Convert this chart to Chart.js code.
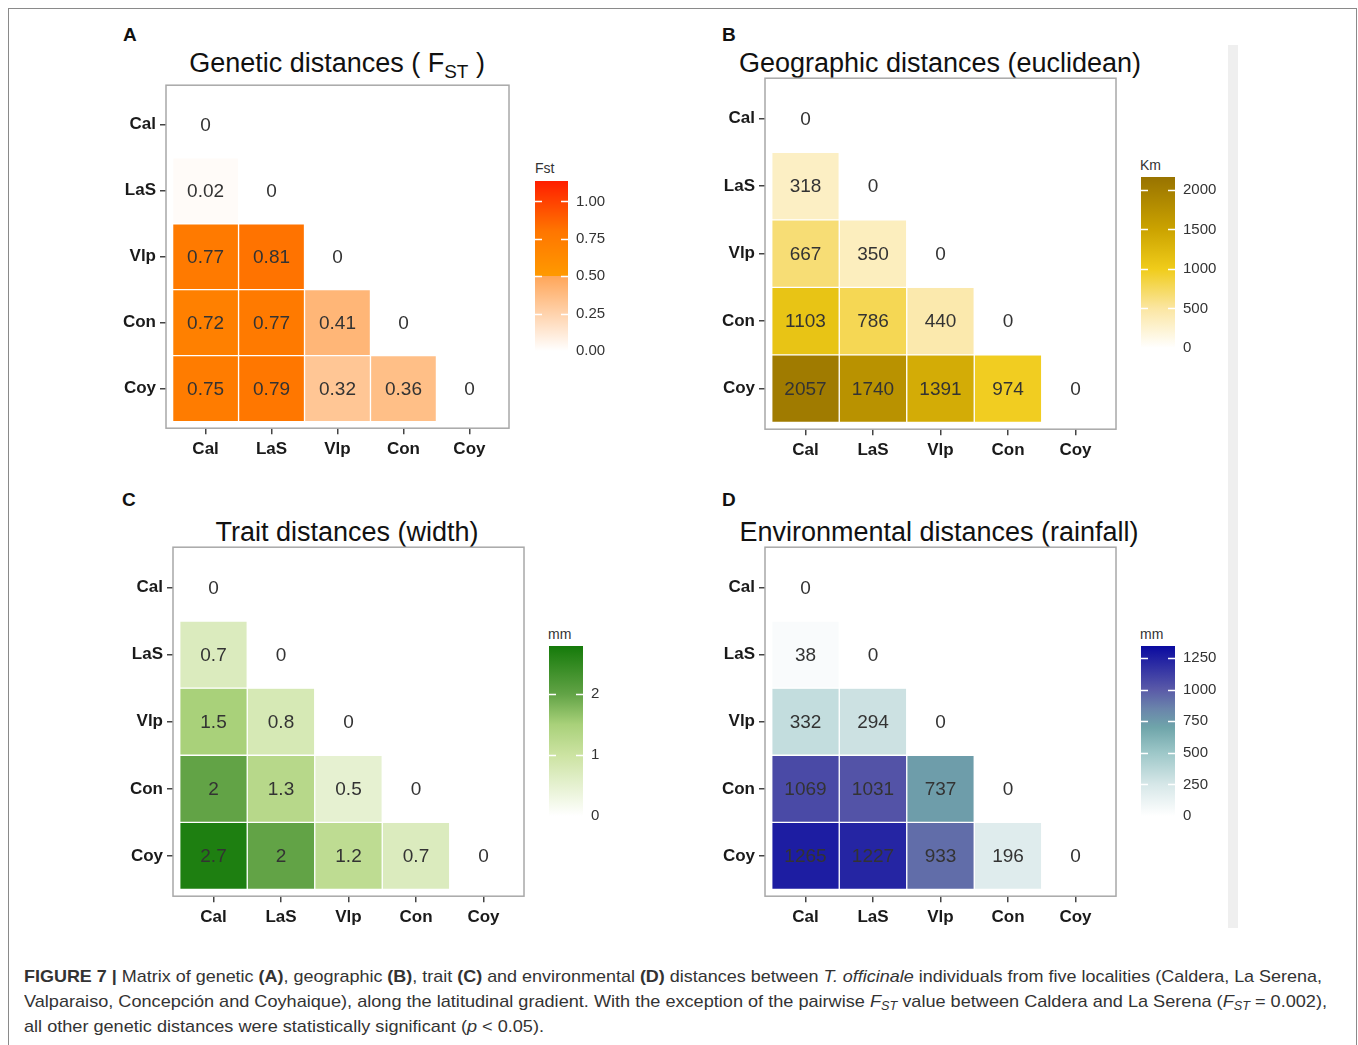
<!DOCTYPE html>
<html>
<head>
<meta charset="utf-8">
<script src="https://cdn.jsdelivr.net/npm/chart.js@4.4.1/dist/chart.umd.min.js"></script>
<style>
body { margin: 0; background: #fff; }
#fig { position: relative; width: 1358px; height: 1045px; overflow: hidden; font-family: "Liberation Sans", Arial, sans-serif; }
.frame { position: absolute; left: 8px; top: 8px; width: 1347px; height: 1100px; border: 1px solid #8a8a8a; }
.strip { position: absolute; left: 1228px; top: 45px; width: 10px; height: 883px; background: #efefef; }
canvas { position: absolute; }
.letter { position: absolute; font-weight: bold; font-size: 19px; line-height: 22px; color: #111; }
.title { position: absolute; width: 600px; text-align: center; font-size: 27px; line-height: 30px; color: #111; white-space: nowrap; }
.title sub { font-size: 70%; vertical-align: -0.3em; line-height: 0; }
.ltitle { position: absolute; font-size: 14px; line-height: 16px; color: #333; }
.cap { position: absolute; left: 24px; font-size: 17px; line-height: 20px; color: #333; white-space: nowrap; transform-origin: 0 50%; }
.cap sub { font-size: 70%; vertical-align: -0.25em; line-height: 0; }
</style>
</head>
<body>
<div id="fig">
  <div class="frame"></div>
  <div class="strip"></div>

  <div class="letter" style="left:123px;top:24px">A</div>
  <div class="letter" style="left:722px;top:24px">B</div>
  <div class="letter" style="left:122px;top:489px">C</div>
  <div class="letter" style="left:722px;top:489px">D</div>

  <div class="title" style="left:37px;top:48px">Genetic distances ( F<sub>ST</sub> )</div>
  <div class="title" style="left:640px;top:48px">Geographic distances (euclidean)</div>
  <div class="title" style="left:47px;top:517px">Trait distances (width)</div>
  <div class="title" style="left:639px;top:517px">Environmental distances (rainfall)</div>

  <div class="ltitle" style="left:535px;top:160px">Fst</div>
  <div class="ltitle" style="left:1140px;top:157px">Km</div>
  <div class="ltitle" style="left:548px;top:626px">mm</div>
  <div class="ltitle" style="left:1140px;top:626px">mm</div>

  <canvas id="heatA"></canvas>
  <canvas id="heatB"></canvas>
  <canvas id="heatC"></canvas>
  <canvas id="heatD"></canvas>
  <canvas id="barA"></canvas>
  <canvas id="barB"></canvas>
  <canvas id="barC"></canvas>
  <canvas id="barD"></canvas>

  <div class="cap" data-w="1298" style="top:967px"><b>FIGURE 7 |</b> Matrix of genetic <b>(A)</b>, geographic <b>(B)</b>, trait <b>(C)</b> and environmental <b>(D)</b> distances between <i>T. officinale</i> individuals from five localities (Caldera, La Serena,</div>
  <div class="cap" data-w="1303" style="top:992px">Valparaiso, Concepción and Coyhaique), along the latitudinal gradient. With the exception of the pairwise <i>F<sub>ST</sub></i> value between Caldera and La Serena (<i>F<sub>ST</sub></i> = 0.002),</div>
  <div class="cap" data-w="520" style="top:1017px">all other genetic distances were statistically significant (<i>p</i> &lt; 0.05).</div>
</div>

<script>
const sites = ['Cal', 'LaS', 'Vlp', 'Con', 'Coy'];

// lower triangle of each matrix, one row per site (row = y, column = x)
const fstRows = [
    [0],
    [0.02, 0],
    [0.77, 0.81, 0],
    [0.72, 0.77, 0.41, 0],
    [0.75, 0.79, 0.32, 0.36, 0]
];
const geoRows = [
    [0],
    [318, 0],
    [667, 350, 0],
    [1103, 786, 440, 0],
    [2057, 1740, 1391, 974, 0]
];
const widthRows = [
    [0],
    [0.7, 0],
    [1.5, 0.8, 0],
    [2, 1.3, 0.5, 0],
    [2.7, 2, 1.2, 0.7, 0]
];
const rainRows = [
    [0],
    [38, 0],
    [332, 294, 0],
    [1069, 1031, 737, 0],
    [1265, 1227, 933, 196, 0]
];

// colour bar ticks
const fstTicks = [0, 0.25, 0.5, 0.75, 1];
const geoTicks = [0, 500, 1000, 1500, 2000];
const widthTicks = [0, 1, 2];
const rainTicks = [0, 250, 500, 750, 1000, 1250];

// fill scales: [value, colour]
const fstStops = [[0, '#ffffff'], [0.4999, '#ffa659'], [0.5, '#ff9a00'], [0.8, '#ff7600'], [1.137, '#ff1e00']];
const geoStops = [[0, '#ffffff'], [500, '#fbe6a2'], [1000, '#f0cc1a'], [1500, '#cba300'], [2164, '#987300']];
const widthStops = [[0, '#ffffff'], [1, '#cce3a2'], [1.5, '#a9d17a'], [2, '#62a346'], [2.79, '#157a0a']];
const rainStops = [[0, '#ffffff'], [250, '#d6e7e8'], [500, '#9dc7c8'], [700, '#6fa5aa'], [850, '#6a84ab'], [1000, '#5a5aa8'], [1345, '#0a0aa0']];

function hexToRgb(h) {
    return [1, 3, 5].map(k => parseInt(h.substr(k, 2), 16));
}

function colourFor(stops, v) {
    if (v <= stops[0][0]) return stops[0][1];
    for (let k = 1; k < stops.length; k++) {
        if (v <= stops[k][0]) {
            const a = hexToRgb(stops[k - 1][1]), b = hexToRgb(stops[k][1]);
            const t = (v - stops[k - 1][0]) / (stops[k][0] - stops[k - 1][0]);
            const c = a.map((x, n) => Math.round(x + (b[n] - x) * t));
            return `rgb(${c[0]}, ${c[1]}, ${c[2]})`;
        }
    }
    return stops[stops.length - 1][1];
}

const panelBox = {
    id: 'panelBox',
    afterDraw(chart) {
        const a = chart.chartArea, ctx = chart.ctx;
        ctx.save();
        ctx.strokeStyle = '#a8a8a8';
        ctx.lineWidth = 1.5;
        ctx.strokeRect(a.left, a.top, a.right - a.left, a.bottom - a.top);
        ctx.restore();
    }
};

const cellLabels = {
    id: 'cellLabels',
    afterDatasetsDraw(chart) {
        const ctx = chart.ctx;
        ctx.save();
        ctx.font = '19px "Liberation Sans", Arial, sans-serif';
        ctx.fillStyle = '#333333';
        ctx.textAlign = 'center';
        ctx.textBaseline = 'middle';
        chart.data.datasets.forEach((ds, i) => {
            chart.getDatasetMeta(i).data.forEach((el, j) => {
                const p = el.getCenterPoint();
                ctx.fillText(String(ds.data[j].v), p.x, p.y + 1);
            });
        });
        ctx.restore();
    }
};

const barTicks = {
    id: 'barTicks',
    afterDatasetsDraw(chart) {
        const a = chart.chartArea, ctx = chart.ctx, y = chart.scales.y;
        ctx.save();
        ctx.strokeStyle = '#ffffff';
        ctx.lineWidth = 1.5;
        y.ticks.forEach(t => {
            const py = Math.round(y.getPixelForValue(t.value)) + 0.5;
            ctx.beginPath();
            ctx.moveTo(a.left, py); ctx.lineTo(a.left + 7, py);
            ctx.moveTo(a.right - 7, py); ctx.lineTo(a.right, py);
            ctx.stroke();
        });
        ctx.restore();
    }
};

function placeCanvas(canvas, w, h) {
    canvas.width = w;
    canvas.height = h;
    canvas.style.width = w + 'px';
    canvas.style.height = h + 'px';
}

// grow the canvas until its chart area covers the wanted box, then move it there
function fitToBox(chart, canvas, box) {
    const a = chart.chartArea;
    const w = chart.width + (box.r - box.l) - (a.right - a.left);
    const h = chart.height + (box.b - box.t) - (a.bottom - a.top);
    chart.resize(w, h);
    const b = chart.chartArea;
    canvas.style.left = (box.l - b.left) + 'px';
    canvas.style.top = (box.t - b.top) + 'px';
}

function heatmap(id, rows, stops, box) {
    const canvas = document.getElementById(id);
    placeCanvas(canvas, box.r - box.l + 100, box.b - box.t + 80);

    const datasets = rows.map((row, i) => ({
        data: row.map((v, j) => ({ x: j, y: [i - 0.5, i + 0.5], v: v })),
        backgroundColor: row.map(v => colourFor(stops, v)),
        borderColor: '#ffffff',
        borderWidth: 1,
        borderSkipped: false,
        grouped: false,
        barPercentage: 1,
        categoryPercentage: 1
    }));

    const siteAxis = (pos) => ({
        type: 'linear',
        position: pos,
        min: -0.6,
        max: 4.6,
        offset: false,
        reverse: pos === 'left',
        afterBuildTicks: s => { s.ticks = sites.map((_, k) => ({ value: k })); },
        afterFit: s => { if (pos === 'left') s.width = 70; else s.height = 46; },
        ticks: {
            callback: v => sites[v],
            font: { family: '"Liberation Sans", Arial, sans-serif', size: 17, weight: 'bold' },
            color: '#1a1a1a',
            padding: pos === 'left' ? 4 : 5,
            autoSkip: false,
            maxRotation: 0
        },
        grid: { offset: false, drawOnChartArea: false, drawTicks: true, tickLength: 6, color: '#444444', lineWidth: 1.5 },
        border: { display: false }
    });

    const chart = new Chart(canvas, {
        type: 'bar',
        data: { datasets: datasets },
        options: {
            responsive: false,
            maintainAspectRatio: false,
            animation: false,
            events: [],
            layout: { padding: { left: 0, top: 4, right: 10, bottom: 0 } },
            scales: { x: siteAxis('bottom'), y: siteAxis('left') },
            plugins: { legend: { display: false }, tooltip: { enabled: false } }
        },
        plugins: [panelBox, cellLabels]
    });
    fitToBox(chart, canvas, box);
    return chart;
}

function colourbar(id, stops, bar, tickVals, fmt) {
    const canvas = document.getElementById(id);
    placeCanvas(canvas, bar.r - bar.l + 60, bar.b - bar.t + 30);

    const chart = new Chart(canvas, {
        type: 'bar',
        data: {
            labels: [''],
            datasets: [{
                data: [[0, bar.max]],
                backgroundColor: ctx => {
                    const a = ctx.chart.chartArea;
                    if (!a) return stops[0][1];
                    const g = ctx.chart.ctx.createLinearGradient(0, a.bottom, 0, a.top);
                    stops.forEach(s => g.addColorStop(Math.min(1, s[0] / bar.max), s[1]));
                    return g;
                },
                borderWidth: 0,
                barPercentage: 1,
                categoryPercentage: 1
            }]
        },
        options: {
            responsive: false,
            maintainAspectRatio: false,
            animation: false,
            events: [],
            layout: { padding: { left: 0, top: 4, right: 0, bottom: 4 } },
            scales: {
                x: { display: false },
                y: {
                    position: 'right',
                    min: 0,
                    max: bar.max,
                    afterBuildTicks: s => { s.ticks = tickVals.map(v => ({ value: v })); },
                    afterFit: s => { s.width = 60; },
                    ticks: {
                        callback: fmt,
                        font: { family: '"Liberation Sans", Arial, sans-serif', size: 15 },
                        color: '#333333',
                        padding: 8
                    },
                    grid: { display: false, drawTicks: false },
                    border: { display: false }
                }
            },
            plugins: { legend: { display: false }, tooltip: { enabled: false } }
        },
        plugins: [barTicks]
    });
    fitToBox(chart, canvas, bar);
    return chart;
}

heatmap('heatA', fstRows, fstStops, { l: 166, t: 85, r: 509, b: 428 });
heatmap('heatB', geoRows, geoStops, { l: 765, t: 78, r: 1116, b: 429 });
heatmap('heatC', widthRows, widthStops, { l: 173, t: 547, r: 524, b: 896 });
heatmap('heatD', rainRows, rainStops, { l: 765, t: 547, r: 1116, b: 896 });

colourbar('barA', fstStops, { l: 535, t: 181, r: 568, b: 351, max: 1.137 }, fstTicks, v => v.toFixed(2));
colourbar('barB', geoStops, { l: 1141, t: 177, r: 1175, b: 348, max: 2164 }, geoTicks, v => String(v));
colourbar('barC', widthStops, { l: 549, t: 646, r: 583, b: 816, max: 2.79 }, widthTicks, v => String(v));
colourbar('barD', rainStops, { l: 1141, t: 646, r: 1175, b: 816, max: 1345 }, rainTicks, v => String(v));

// squeeze caption lines to the width they take in the printed figure
document.querySelectorAll('.cap').forEach(el => {
    const target = +el.dataset.w;
    el.style.transform = 'scaleX(' + (target / el.getBoundingClientRect().width) + ')';
});
</script>
</body>
</html>
